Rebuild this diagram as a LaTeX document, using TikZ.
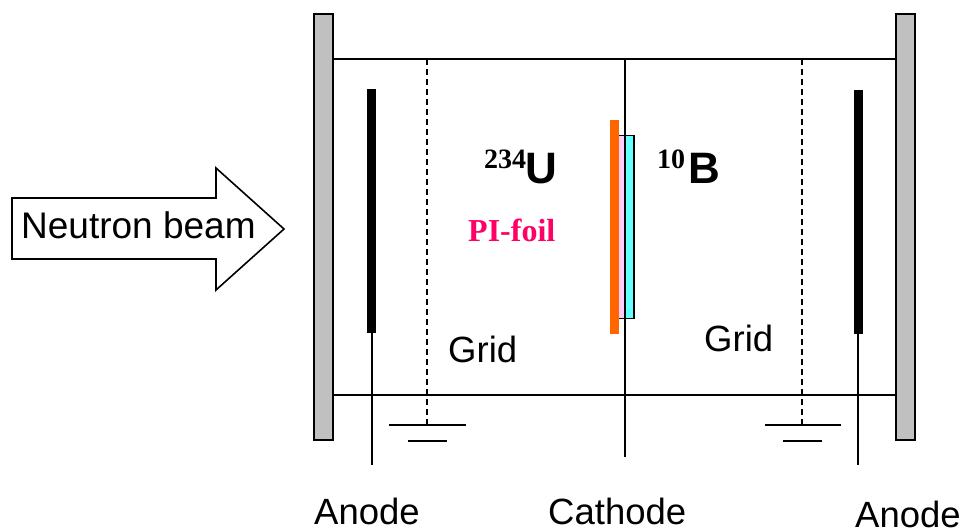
\documentclass[tikz,border=0pt]{standalone}
\usepackage{fontspec}
\setmainfont{Liberation Sans}
\newfontfamily\serifbold{Liberation Serif}[BoldFont={Liberation Serif Bold}]
\definecolor{plategray}{RGB}{192,192,192}
\definecolor{foilorange}{RGB}{255,102,0}
\definecolor{foilpink}{RGB}{255,204,255}
\definecolor{foilcyan}{RGB}{102,255,255}
\definecolor{pilabel}{RGB}{255,0,102}
\tikzset{
  x=1pt,y=-1pt,
  wire/.style={draw=black,line width=1.7pt},
  gridwire/.style={draw=black,line width=1.3pt,dash pattern=on 6pt off 4pt},
  plate/.style={draw=black,line width=1.7pt,fill=plategray},
  label/.style={inner sep=0pt,anchor=base west,font=\fontsize{36.5}{36.5}\selectfont},
  bigsym/.style={inner sep=0pt,anchor=base west,font=\fontsize{44}{44}\selectfont\bfseries},
  supsym/.style={inner sep=0pt,anchor=base west,font=\fontsize{28}{28}\selectfont\serifbold\bfseries},
}
\begin{document}
\begin{tikzpicture}
\useasboundingbox (0,0) rectangle (966,531);
% plates
\draw[plate] (314,14) rectangle (333,440);
\draw[plate] (896,14) rectangle (915,440);
\coordinate (tl) at (333,59); \coordinate (tr) at (896,59);
\coordinate (bl) at (333,395); \coordinate (br) at (896,395);
\draw[wire] (tl) -- (tr);
\draw[wire] (bl) -- (br);
% anodes
\coordinate (a1t) at (372,333); \coordinate (a1b) at (372,465);
\coordinate (a2t) at (858,334); \coordinate (a2b) at (858,465);
\draw[wire] (a1t) -- (a1b);
\draw[wire] (a2t) -- (a2b);
\fill[black] (367,89) rectangle (376,333);
\fill[black] (854,90) rectangle (862.5,334);
% grids
\coordinate (g1t) at (427,59); \coordinate (g1b) at (427,425);
\coordinate (g2t) at (802,59); \coordinate (g2b) at (802,425);
\draw[gridwire] (g1t) -- (g1b);
\draw[gridwire] (g2t) -- (g2b);
\coordinate (e1a) at (389,425); \coordinate (e1b) at (465.5,425);
\coordinate (e1c) at (408,441); \coordinate (e1d) at (447,441);
\coordinate (e2a) at (765,425); \coordinate (e2b) at (841,425);
\coordinate (e2c) at (783,441); \coordinate (e2d) at (822,441);
\draw[wire] (e1a) -- (e1b);
\draw[wire] (e1c) -- (e1d);
\draw[wire] (e2a) -- (e2b);
\draw[wire] (e2c) -- (e2d);
% cathode
\coordinate (ct) at (625,59); \coordinate (cb) at (625,457);
\fill[foilpink] (619,136) rectangle (625,318);
\draw[draw=black,line width=1.7pt,fill=foilcyan] (625,318.5) rectangle (634,135.5);
\draw[wire] (619,135.5) -- (625,135.5);
\draw[wire] (619,318.5) -- (625,318.5);
\draw[wire] (ct) -- (cb);
\fill[foilorange] (610,120) rectangle (619,334);
% arrow
\draw[draw=black,line width=1.6pt,fill=white] (12,198) -- (216,198) -- (216,168) -- (284,229) -- (216,290) -- (216,259) -- (12,259) -- cycle;
% text
\node[inner sep=0pt,anchor=base west,font=\fontsize{37}{37}\selectfont] (beam) at (21,238) {Neutron beam};
\node[supsym] (u234) at (484,168) {234};
\node[bigsym] (u) at (525,183) {U};
\node[supsym] (b10) at (657,168) {10};
\node[bigsym] (b) at (688,183) {B};
\node[inner sep=0pt,anchor=base west,text=pilabel,font=\fontsize{32}{32}\selectfont\serifbold\bfseries] (pi) at (468,241) {PI-foil};
\node[label] (grid1) at (448,362) {Grid};
\node[label] (grid2) at (704,351) {Grid};
\node[label] (an1) at (314,524) {Anode};
\node[label] (cath) at (548,524) {Cathode};
\node[label] (an2) at (855,527.5) {Anode};
\end{tikzpicture}
\end{document}
